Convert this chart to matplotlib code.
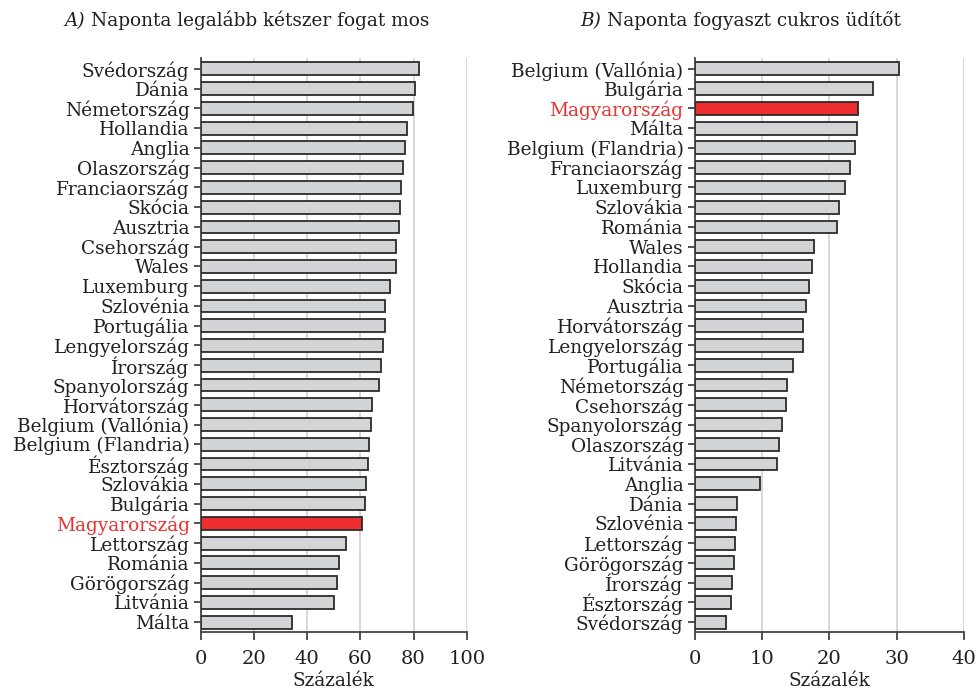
import matplotlib
matplotlib.use("Agg")
import matplotlib.pyplot as plt

plt.rcParams['font.family'] = ['DejaVu Serif']

countries_a = ["Svédország", "Dánia", "Németország", "Hollandia", "Anglia", "Olaszország",
               "Franciaország", "Skócia", "Ausztria", "Csehország", "Wales", "Luxemburg",
               "Szlovénia", "Portugália", "Lengyelország", "Írország", "Spanyolország",
               "Horvátország", "Belgium (Vallónia)", "Belgium (Flandria)", "Észtország",
               "Szlovákia", "Bulgária", "Magyarország", "Lettország", "Románia",
               "Görögország", "Litvánia", "Málta"]
values_a = [82.0, 80.5, 79.75, 77.5, 76.9, 75.9, 75.4, 75.0, 74.5, 73.25, 73.25, 71.0,
            69.25, 69.25, 68.5, 67.75, 66.9, 64.4, 63.9, 63.25, 62.9, 62.25, 61.9, 60.75,
            54.6, 52.1, 51.25, 50.1, 34.5]

countries_b = ["Belgium (Vallónia)", "Bulgária", "Magyarország", "Málta", "Belgium (Flandria)",
               "Franciaország", "Luxemburg", "Szlovákia", "Románia", "Wales", "Hollandia",
               "Skócia", "Ausztria", "Horvátország", "Lengyelország", "Portugália",
               "Németország", "Csehország", "Spanyolország", "Olaszország", "Litvánia",
               "Anglia", "Dánia", "Szlovénia", "Lettország", "Görögország", "Írország",
               "Észtország", "Svédország"]
values_b = [30.4, 26.5, 24.3, 24.15, 23.8, 23.0, 22.4, 21.4, 21.2, 17.7, 17.4, 17.0, 16.6,
            16.1, 16.1, 14.6, 13.7, 13.6, 13.0, 12.5, 12.3, 9.75, 6.25, 6.1, 6.0, 5.8, 5.6,
            5.4, 4.7]

xticks_a = [0, 20, 40, 60, 80, 100]
xticks_b = [0, 10, 20, 30, 40]
title_a = ("A)", "Naponta legalább kétszer fogat mos")
title_b = ("B)", "Naponta fogyaszt cukros üdítőt")
xlabel = "Százalék"
highlight = "Magyarország"

GRAY = "#d3d4d6"
RED = "#ee2e2f"
TEXT = "#231f20"
EDGE = "#2b2b2b"
FS = 13.3

fig = plt.figure(figsize=(9.77, 6.95), dpi=100)
ax_a = fig.add_axes([0.2054, 0.0906, 0.2723, 0.826])
ax_b = fig.add_axes([0.7110, 0.0906, 0.2757, 0.826])


def draw(ax, cats, vals, xticks, title, tx):
    n = len(cats)
    ys = list(range(n))
    colors = [RED if c == highlight else GRAY for c in cats]
    ax.barh(ys, vals, height=0.65, color=colors, edgecolor=EDGE, linewidth=1.3, zorder=3)
    ax.set_ylim(n - 0.5, -0.55)
    ax.set_xlim(xticks[0], xticks[-1])
    ax.set_yticks(ys)
    ax.set_yticklabels(cats, fontsize=FS, color=TEXT)
    for lbl in ax.get_yticklabels():
        if lbl.get_text() == highlight:
            lbl.set_color("#e8322f")
    ax.set_xticks(xticks)
    ax.set_xticklabels([str(t) for t in xticks], fontsize=14, color=TEXT)
    ax.tick_params(axis='y', length=5, width=1.3, color="#444444", pad=3)
    ax.tick_params(axis='x', length=6, width=1.3, color="#444444", pad=7)
    for s in ['top', 'right']:
        ax.spines[s].set_visible(False)
    for s in ['left', 'bottom']:
        ax.spines[s].set_color("#444444")
        ax.spines[s].set_linewidth(1.3)
    for t in xticks[1:]:
        ax.axvline(t, color="#d4d4d4", linewidth=1.3, zorder=1)
    ax.set_xlabel(xlabel, fontsize=FS, color=TEXT, labelpad=3)
    t1 = fig.text(tx, 0.963, title[0] + " ", fontsize=FS, style='italic', color=TEXT,
                  ha='left', va='baseline')
    ax.annotate(title[1], xy=(1, 0), xycoords=t1, fontsize=FS, color=TEXT,
                ha='left', va='bottom')


draw(ax_a, countries_a, values_a, xticks_a, title_a, 0.066)
draw(ax_b, countries_b, values_b, xticks_b, title_b, 0.594)

fig.savefig("out.png", dpi=100)
